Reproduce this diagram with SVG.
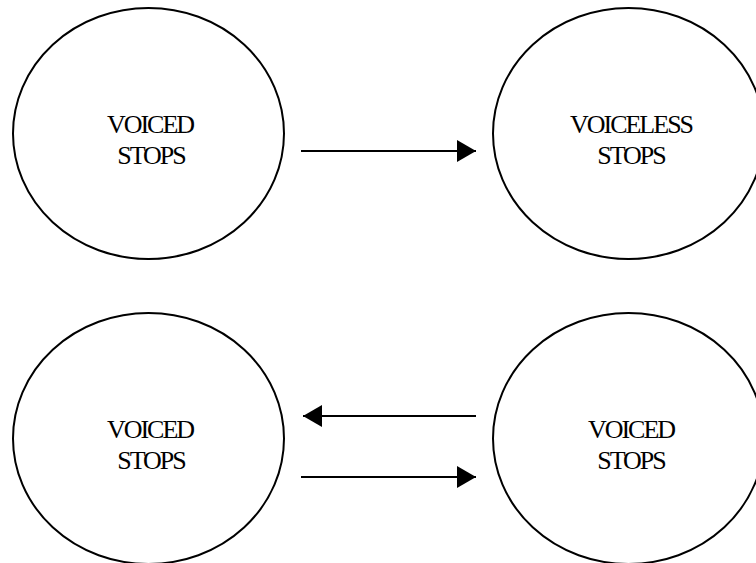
<svg xmlns="http://www.w3.org/2000/svg" width="756" height="563" viewBox="0 0 756 563">
<style>
.node ellipse{fill:#fff;stroke:#000;stroke-width:2}
.node text{font-family:"Liberation Serif","Times New Roman",serif;font-size:26px;letter-spacing:-2px;text-anchor:middle;fill:#000}
.edge{stroke:#000;stroke-width:2;fill:none;marker-end:url(#ah)}
</style>
<defs>
<marker id="ah" markerUnits="userSpaceOnUse" markerWidth="20" markerHeight="22" refX="19" refY="11" orient="auto">
<path d="M0,0 L19,11 L0,22 z" fill="#000"/>
</marker>
</defs>
<rect width="756" height="563" fill="#fff"/>
<g id="voiced-top" class="node">
<ellipse cx="148.5" cy="133.5" rx="135.5" ry="125.5"/>
<text x="150" y="133">VOICED</text>
<text x="151" y="164">STOPS</text>
</g>
<g id="voiceless-top" class="node">
<ellipse cx="628.5" cy="133.5" rx="135.5" ry="125.5"/>
<text x="631" y="133">VOICELESS</text>
<text x="631" y="164">STOPS</text>
</g>
<g id="voiced-bottom-left" class="node">
<ellipse cx="148.5" cy="438.5" rx="135.5" ry="125.5"/>
<text x="150" y="438">VOICED</text>
<text x="151" y="469">STOPS</text>
</g>
<g id="voiced-bottom-right" class="node">
<ellipse cx="628.5" cy="438.5" rx="135.5" ry="125.5"/>
<text x="631" y="438">VOICED</text>
<text x="631" y="469">STOPS</text>
</g>
<g id="connectors">
<line class="edge" x1="301" y1="151" x2="476" y2="151"/>
<line class="edge" x1="476" y1="416" x2="303" y2="416"/>
<line class="edge" x1="301" y1="477" x2="476" y2="477"/>
</g>
</svg>
